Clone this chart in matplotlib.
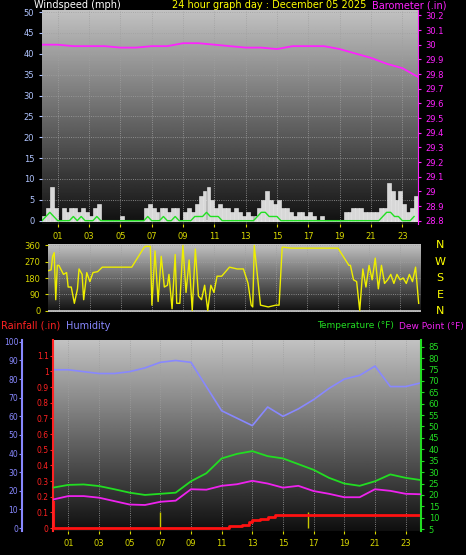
import numpy as np
import matplotlib
matplotlib.use("Agg")
import matplotlib.pyplot as plt

hours = list(range(25))
baro = [30.0,30.0,29.99,29.99,29.99,29.98,29.98,29.99,29.99,30.01,30.01,30.0,29.99,29.98,29.98,29.97,29.99,29.99,29.99,29.97,29.94,29.91,29.87,29.84,29.78]
humidity = [85,85,84,83,83,84,86,89,90,89,76,63,59,55,65,60,64,69,75,80,82,87,76,76,78]
temp = [23.2,24.4,24.6,23.9,22.5,21,20,20.5,21,26,29.5,36,38,39.2,37,36,33.5,31,27.5,25,24,26,29,27.5,26.5]
dew = [18,19.5,19.5,18.8,17.3,15.8,15.6,17,17.5,22.5,22.3,24,24.7,26.2,25,23.2,24,21.7,20.5,19,19,22.5,21.8,20.5,20.3]
rain_t = [0,11.3,11.5,12.3,12.8,13.0,13.5,14.0,14.5,23.9,24.0]
rain_v = [0,0,0.01,0.02,0.04,0.05,0.06,0.07,0.08,0.08,0.0]

wind_t = [i*0.25 for i in range(96)]
gust = [1,3,8,3,0,3,2,3,3,2,3,2,1,3,4,0,0,0,0,0,1,0,0,0,0,0,3,4,3,2,3,3,
        2,3,3,0,2,3,2,4,6,7,8,5,3,4,3,3,2,3,2,1,2,1,1,3,5,7,5,4,5,3,3,2,
        1,2,2,1,2,1,0,1,0,0,0,0,0,2,2,3,3,3,2,2,2,2,3,3,9,7,5,7,4,2,3,6]
avg = [0,1,2,1,0,0,0,0,1,0,1,0,0,0,1,0,0,0,0,0,0,0,0,0,0,0,0,1,0,0,0,1,
       0,0,1,0,0,0,0,1,1,1,2,1,1,1,0,0,0,0,0,0,0,0,0,1,2,2,1,1,1,0,0,0,
       0,0,0,0,0,0,0,0,0,0,0,0,0,0,0,0,0,0,0,0,0,0,0,1,2,2,1,1,0,0,0,1]
dir_t = [0.3,0.5,0.6,0.7,0.8,0.9,1.0,1.3,1.5,1.6,1.8,2.0,2.2,2.3,2.5,2.6,2.8,3.0,3.2,3.5,3.8,4.5,5.5,5.7,6.5,6.6,6.7,6.9,7.0,7.2,7.4,7.6,7.8,8.0,8.1,8.3,8.5,8.6,8.8,9.0,9.2,9.4,9.6,9.8,10.0,10.2,10.4,10.6,10.8,11.0,11.2,11.5,12.0,12.5,12.9,13.2,13.4,13.5,13.6,14.0,14.5,15.0,15.2,15.4,15.5,16.0,17.0,18.0,19.0,19.7,19.8,20.0,20.2,20.4,20.6,20.8,21.0,21.2,21.4,21.6,21.8,22.0,22.2,22.4,22.6,22.8,23.0,23.2,23.4,23.6,23.8,24.0,24.2]
direction = [220,225,300,320,60,250,250,200,210,130,130,40,120,230,200,60,210,160,210,215,240,240,240,240,350,355,355,355,30,330,50,300,130,140,200,10,310,40,40,360,100,280,0,340,80,60,140,0,140,100,190,190,240,230,230,150,30,20,360,30,20,30,30,350,350,345,345,345,345,250,250,170,160,0,230,130,250,170,290,120,250,150,170,200,150,200,170,180,150,200,160,240,40]

dpi = 100
fig = plt.figure(figsize=(4.66, 5.55), dpi=dpi, facecolor='black')
W, H = 466, 555
def ax_at(x0, y0, x1, y1):
    return fig.add_axes([x0/W, 1-y1/H, (x1-x0)/W, (y1-y0)/H])

grad = np.linspace(0.06, 0.76, 256).reshape(-1, 1)
def bg(ax):
    ax.set_facecolor('black')
    ax.imshow(grad, extent=[0, 1, 0, 1], transform=ax.transAxes, cmap='gray',
              vmin=0, vmax=1, aspect='auto', origin='lower', zorder=0)
    for s in ax.spines.values():
        s.set_visible(False)

xt = [1,3,5,7,9,11,13,15,17,19,21,23]
xl = ['%02d' % h for h in xt]
ycol = '#d8d800'
gcol = '#a0a0a0'

# top panel
ax1 = ax_at(42, 10, 418, 224)
bg(ax1)
ax1.set_xlim(0, 24); ax1.set_ylim(-0.8, 50.5)
ax1.bar(wind_t, gust, width=0.25, align='edge', color='#d8d8d8', edgecolor='#f0f0f0', lw=0.4, zorder=3)
ax1.plot(wind_t, avg, color='#22e022', lw=1, zorder=4)
ax1.axhline(0, color='#cfcfcf', lw=1.2, zorder=2)
ax1.set_yticks(range(0, 51, 5))
ax1.set_xticks(xt); ax1.set_xticklabels(xl)
ax1.tick_params(axis='y', colors='#b0c4ff', labelsize=6, length=2)
ax1.tick_params(axis='x', colors=ycol, labelsize=6, length=2)
ax1.grid(True, color=gcol, ls=':', lw=0.6)
ax1.set_axisbelow(False)
axb = ax1.twinx()
axb.set_ylim(28.8 - 0.8/50*1.4, 28.8 + 51.3/50*1.4)
axb.plot(hours, baro, color='#ff22ff', lw=1.3, zorder=5)
bt = [round(28.8 + 0.1*i, 1) for i in range(15)]
axb.set_yticks(bt); axb.set_yticklabels(['%g' % v for v in bt])
axb.tick_params(axis='y', colors='#ff22ff', labelsize=6, length=2)
for s in axb.spines.values(): s.set_visible(False)
axb.spines['right'].set_visible(True); axb.spines['right'].set_color('#ff22ff')
fig.text(34/W, 1-5/H, 'Windspeed (mph)', color='white', fontsize=7, va='center')
fig.text(172/W, 1-5/H, '24 hour graph day : December 05 2025', color='#ffff00', fontsize=7, va='center')
fig.text(372/W, 1-5/H, 'Barometer (.in)', color='#ff22ff', fontsize=7, va='center')

# middle panel
ax2 = ax_at(48, 244, 421, 312)
bg(ax2)
ax2.set_xlim(0.3, 24.35); ax2.set_ylim(-8, 368)
ax2.plot(dir_t, direction, color='#eeee00', lw=1, zorder=4)
ax2.axhline(0, color='#cfcfcf', lw=1.2, zorder=2)
ax2.set_yticks([0, 90, 180, 270, 360])
ax2.set_xticks(xt); ax2.set_xticklabels([])
ax2.tick_params(axis='y', colors=ycol, labelsize=6, length=2)
ax2.tick_params(axis='x', length=0)
ax2.grid(True, color=gcol, ls=':', lw=0.6)
for i, c in enumerate(['N', 'W', 'S', 'E', 'N']):
    fig.text(440/W, 1-(245 + i*16.5)/H, c, color='#ffff00', fontsize=8, ha='center', va='center')

# bottom panel
ax3 = ax_at(53, 340, 421, 531)
bg(ax3)
ax3.set_xlim(0, 24); ax3.set_ylim(-1.6, 101)
ax3.plot(hours, humidity, color='#8888ff', lw=1.2, zorder=4)
ax3.set_xticks(xt); ax3.set_xticklabels(xl)
ax3.tick_params(axis='x', colors=ycol, labelsize=6, length=2)
ax3.set_yticks([])
ax3.grid(True, axis='x', color=gcol, ls=':', lw=0.6)
axh = fig.add_axes(ax3.get_position())
axh.set_ylim(-1.6, 101); axh.patch.set_visible(False); axh.set_xticks([])
for s in axh.spines.values(): s.set_visible(False)
axh.spines['left'].set_visible(True); axh.spines['left'].set_position(('outward', 22))
axh.spines['left'].set_color('#8888ff'); axh.spines['left'].set_linewidth(1.5)
axh.set_yticks(range(0, 101, 10))
axh.tick_params(axis='y', colors='#8888ff', labelsize=5.5, length=2, pad=1)
axr = fig.add_axes(ax3.get_position())
axr.set_xlim(0, 24); axr.set_ylim(-0.019, 1.2)
axr.patch.set_visible(False); axr.set_xticks([])
for s in axr.spines.values(): s.set_visible(False)
axr.spines['left'].set_visible(True); axr.spines['left'].set_color('#ff2222'); axr.spines['left'].set_linewidth(1.5)
axr.set_yticks([round(0.1*i, 1) for i in range(12)])
axr.set_yticklabels(['0'] + ['%g' % round(0.1*i, 1) for i in range(1, 12)])
axr.tick_params(axis='y', colors='#ff2222', labelsize=5.5, length=2, pad=1)
axr.step(rain_t, rain_v, where='post', color='#ff1111', lw=2, zorder=5)
axr.vlines([0.05], 0, 0.17, color='#ff1111', lw=1.5)
axr.vlines([7.0, 16.6], 0, 0.1, color='#c8c800', lw=1)
axt = fig.add_axes(ax3.get_position())
axt.set_xlim(0, 24); axt.set_ylim(4.2, 87.9)
axt.patch.set_visible(False); axt.set_xticks([])
axt.yaxis.tick_right()
for s in axt.spines.values(): s.set_visible(False)
axt.spines['right'].set_visible(True); axt.spines['right'].set_color('#22dd22'); axt.spines['right'].set_linewidth(1.5)
axt.set_yticks(range(5, 86, 5))
axt.tick_params(axis='y', colors='#22dd22', labelsize=6, length=2)
axt.plot(hours, temp, color='#22dd22', lw=1.3, zorder=5)
axt.plot(hours, dew, color='#ee22ee', lw=1.3, zorder=5)
fig.text(1/W, 1-326/H, 'Rainfall (.in)', color='#ff2222', fontsize=7, va='center')
fig.text(66/W, 1-326/H, 'Humidity', color='#8888ff', fontsize=7, va='center')
fig.text(394/W, 1-326/H, 'Temperature (°F)', color='#22dd22', fontsize=6.5, va='center', ha='right')
fig.text(464/W, 1-326/H, 'Dew Point (°F)', color='#ee22ee', fontsize=6.5, va='center', ha='right')

fig.savefig('out.png', dpi=dpi, facecolor='black')
